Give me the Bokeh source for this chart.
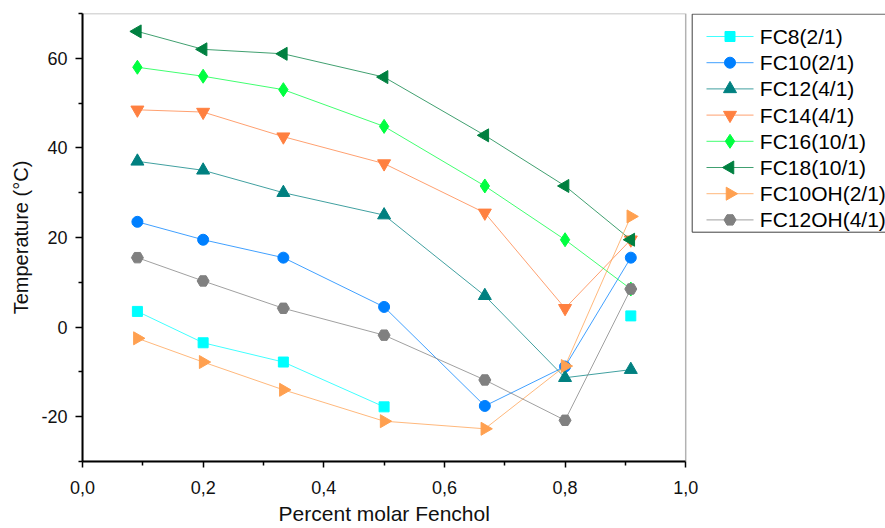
import numpy as np
from bokeh.plotting import figure
from bokeh.models import FixedTicker, CustomJSTickFormatter, Range1d, BoxAnnotation, Title
from bokeh.core.properties import value
from bokeh.embed import file_html
from bokeh.resources import INLINE

# ---- data ----
x_frac = [0.091, 0.2, 0.333, 0.5, 0.667, 0.8, 0.909]
nan = float("nan")
fc8 = [3.5, -3.5, -7.8, -17.8, nan, nan, 2.5]
fc10 = [23.5, 19.5, 15.5, 4.5, -17.6, -8.8, 15.5]
fc12 = [37, 35, 30, 25, 7, -11.3, -9.5]
fc14 = [48.5, 48, 42.5, 36.5, 25.5, 4.2, 19.5]
fc16 = [58, 56, 53, 44.8, 31.5, 19.5, 8.5]
fc18 = [66, 62, 61, 55.8, 42.8, 31.5, 19.5]
fc10oh = [-2.5, -7.8, -14, -21, -22.7, -8.7, 24.7]
fc12oh = [15.5, 10.3, 4.2, -1.8, -11.8, -20.8, 8.5]

labels = ["FC8(2/1)", "FC10(2/1)", "FC12(4/1)", "FC14(4/1)",
          "FC16(10/1)", "FC18(10/1)", "FC10OH(2/1)", "FC12OH(4/1)"]
series = [fc8, fc10, fc12, fc14, fc16, fc18, fc10oh, fc12oh]

x_major = [0.0, 0.2, 0.4, 0.6, 0.8, 1.0]
x_minor = [0.1, 0.3, 0.5, 0.7, 0.9]
y_major = [-20, 0, 20, 40, 60]
y_minor = [-30, -10, 10, 30, 50, 70]

x_title = "Percent molar Fenchol"
y_title = "Temperature (°C)"

# ---- styles ----
colors = ["#00FFFF", "#0080FF", "#008080", "#FF8040",
          "#00FF40", "#008040", "#FFA050", "#808080"]
markers = ["square", "circle", "triangle", "inverted_triangle",
           "diamond", "triangle", "triangle", "hex"]
angles = [0, 0, 0, 0, 0, np.pi / 2, -np.pi / 2, 0]
sizes = [10, 11, 13, 13, 14, 13, 13, 12]
LINE_ALPHA = 0.75

FONT = "Liberation Sans"

# ---- layout (pixels) ----
W, H = 885, 528
B_LEFT, B_TOP, B_BOTTOM = 82, 13, 67
FRAME_W = W - B_LEFT
FRAME_H = H - B_TOP - B_BOTTOM
PX_PER_X = 603.2                      # pixels for one unit of x (0..1 data area)
X0, X1 = 0.0, 1.0
Y0, Y1 = -30.0, 70.0
x_end = FRAME_W / PX_PER_X            # extra room on the right for the legend


def px2x(px):
    return (px - B_LEFT) / PX_PER_X


def px2y(py):
    return Y1 - (py - B_TOP) / FRAME_H * (Y1 - Y0)


p = figure(width=W, height=H, output_backend="svg", toolbar_location=None,
           x_range=Range1d(0, x_end), y_range=Range1d(Y0, Y1),
           min_border_left=B_LEFT, min_border_right=0,
           min_border_top=B_TOP, min_border_bottom=B_BOTTOM,
           background_fill_color="white", border_fill_color="white")

p.xgrid.visible = False
p.ygrid.visible = False
p.outline_line_color = None

# plot box (top / right edges) over the data area only
p.add_layout(BoxAnnotation(left=X0, right=X1, bottom=Y0, top=Y1,
                           fill_alpha=0, line_color="black", line_width=1.5))

for ys, col, mk, ang, sz in zip(series, colors, markers, angles, sizes):
    p.line(x_frac, ys, line_color=col, line_width=1, line_alpha=LINE_ALPHA)
    p.scatter(x_frac, ys, marker=mk, size=sz, angle=ang,
              fill_color=col, line_color=col)

# ---- legend drawn with glyphs (keeps rotated triangles) ----
n = len(labels)
LEG_LEFT, LEG_TOP, LEG_BOTTOM = 691.7, 13.6, 231.7
ROW0, ROW_STEP = 36.0, 26.2
LINE_A, LINE_B, MARK_X, TEXT_X = 706, 753, 729.5, 759.3

p.quad(left=[px2x(LEG_LEFT)], right=[px2x(W + 20)],
       top=[px2y(LEG_TOP)], bottom=[px2y(LEG_BOTTOM)],
       fill_color="white", line_color="#404040", line_width=1)
row_y = [px2y(ROW0 + ROW_STEP * i) for i in range(n)]
p.segment(x0=[px2x(LINE_A)] * n, x1=[px2x(LINE_B)] * n, y0=row_y, y1=row_y,
          line_color=colors, line_width=1, line_alpha=LINE_ALPHA)
p.scatter(x=[px2x(MARK_X)] * n, y=row_y, marker=markers, size=sizes, angle=angles,
          fill_color=colors, line_color=colors)
p.text(x=[px2x(TEXT_X)] * n, y=row_y, text=labels,
       text_font=value(FONT), text_font_size="21px", text_color="black",
       text_align="left", text_baseline="middle")

# x axis
xa = p.xaxis[0]
xa.bounds = (X0, X1)
xa.ticker = FixedTicker(ticks=x_major, minor_ticks=x_minor)
xa.formatter = CustomJSTickFormatter(code="return tick.toFixed(1).replace('.', ',');")

# x title, centred under the 0..1 data area
TITLE_W = 211
p.add_layout(Title(text=x_title, align="left",
                   offset=PX_PER_X * (X1 - X0) / 2 - TITLE_W / 2,
                   text_font=FONT, text_font_size="21px",
                   text_font_style="normal", text_color="#111111",
                   standoff=7), "below")

# y axis
ya = p.yaxis[0]
ya.ticker = FixedTicker(ticks=y_major, minor_ticks=y_minor)
ya.formatter = CustomJSTickFormatter(code="return tick.toFixed(0);")
ya.axis_label = y_title

for ax in (xa, ya):
    ax.axis_line_color = "black"
    ax.axis_line_width = 2
    ax.major_tick_line_color = "black"
    ax.minor_tick_line_color = "black"
    ax.major_tick_line_width = 1.5
    ax.minor_tick_line_width = 1.5
    ax.major_tick_in = 0
    ax.minor_tick_in = 0
    ax.major_label_text_font = FONT
    ax.major_label_text_font_size = "18px"
    ax.major_label_text_color = "#111111"
    ax.axis_label_text_font = FONT
    ax.axis_label_text_font_style = "normal"
    ax.axis_label_text_color = "#111111"

ya.axis_label_text_font_size = "20px"

xa.major_tick_out = 6
xa.minor_tick_out = 4
xa.major_label_standoff = 13

ya.major_tick_out = 7
ya.minor_tick_out = 4
ya.major_label_standoff = 8
ya.axis_label_standoff = 6

open("out.html", "w").write(file_html(p, INLINE))
